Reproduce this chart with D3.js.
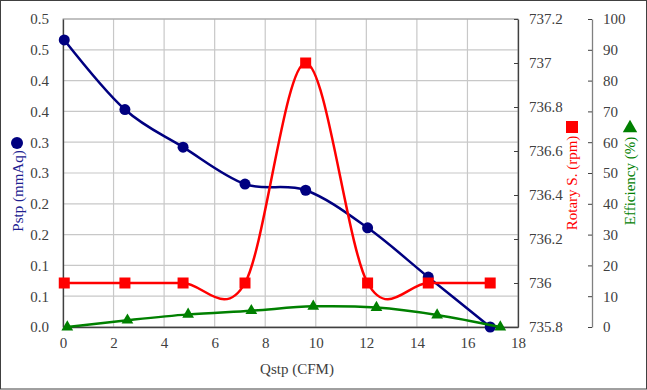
<!DOCTYPE html>
<html><head><meta charset="utf-8">
<script src="https://cdn.jsdelivr.net/npm/d3@7"></script>
<style>body{margin:0;background:#fff}svg{display:block}</style>
</head><body>
<svg id="c" width="647" height="390"></svg>
<script>
const xPstp = [0.05, 2.45, 4.75, 7.2, 9.6, 12.05, 14.45, 16.9];
const pstp = [0.466, 0.353, 0.292, 0.232, 0.222, 0.161, 0.081, 0.0];
const rotary = [736, 736, 736, 736, 737, 736, 736, 736];
const xEff = [0.17, 2.55, 4.95, 7.45, 9.9, 12.4, 14.8, 17.3];
const eff = [0, 2.2, 4.1, 5.3, 6.7, 6.3, 3.9, 0];
const leftTicks = [0,0.05,0.1,0.15,0.2,0.25,0.3,0.35,0.4,0.45,0.5];
const leftLabels = ["0.0","0.1","0.1","0.2","0.2","0.3","0.3","0.4","0.4","0.5","0.5"];
const xTicks = [0,2,4,6,8,10,12,14,16,18];
const rotTicks = [735.8,736,736.2,736.4,736.6,736.8,737,737.2];
const rotLabels = ["735.8","736","736.2","736.4","736.6","736.8","737","737.2"];
const effTicks = [0,10,20,30,40,50,60,70,80,90,100];

const svg = d3.select("#c");
const L=63, R=518, T=19, B=327;
const font = "'Liberation Serif','Times New Roman',serif";
const x = d3.scaleLinear().domain([0,18]).range([L,R]);
const y = d3.scaleLinear().domain([0,0.5]).range([B,T]);
const yR = d3.scaleLinear().domain([735.8,737.2]).range([B,T]);
const yE = d3.scaleLinear().domain([0,100]).range([B,T]);

svg.append("rect").attr("x",0.5).attr("y",0.5).attr("width",646).attr("height",388.5)
  .attr("fill","#fff").attr("stroke","#404040");

// grid
const g = svg.append("g");
g.selectAll(".vg").data(xTicks.slice(1,-1)).join("line")
  .attr("x1",d=>x(d)).attr("x2",d=>x(d)).attr("y1",T).attr("y2",B)
  .attr("stroke","#c8c8c8").attr("stroke-width",1.2);
g.selectAll(".hg").data(leftTicks.slice(1)).join("line")
  .attr("x1",L).attr("x2",R).attr("y1",d=>y(d)).attr("y2",d=>y(d))
  .attr("stroke","#c8c8c8").attr("stroke-width",1.2);
svg.append("rect").attr("x",L).attr("y",T).attr("width",R-L).attr("height",B-T)
  .attr("fill","none").attr("stroke","#a0a0a0");

function styleAxis(sel, lineColor){
  sel.selectAll("text").attr("font-family",font).attr("font-size",15).attr("fill","#404040");
  sel.select(".domain").attr("stroke",lineColor).attr("stroke-width",1.3);
  sel.selectAll(".tick line").attr("stroke","#404040");
}
const ax = svg.append("g").attr("transform",`translate(0,${B})`)
  .call(d3.axisBottom(x).tickValues(xTicks).tickSize(0).tickPadding(10).tickSizeOuter(0));
styleAxis(ax,"#404040");
const ay = svg.append("g").attr("transform",`translate(${L},0)`)
  .call(d3.axisLeft(y).tickValues(leftTicks).tickFormat((d,i)=>leftLabels[i]).tickSize(0).tickPadding(14));
styleAxis(ay,"#404040");
const ar = svg.append("g").attr("transform",`translate(${R},0)`)
  .call(d3.axisRight(yR).tickValues(rotTicks).tickFormat((d,i)=>rotLabels[i]).tickSizeInner(-4).tickSizeOuter(0).tickPadding(11));
styleAxis(ar,"#404040");
const ae = svg.append("g").attr("transform",`translate(592,0)`)
  .call(d3.axisRight(yE).tickValues(effTicks).tickSizeInner(-4).tickSizeOuter(0).tickPadding(11));
styleAxis(ae,"#808080");

const curve = d3.curveCatmullRom.alpha(0);
// Pstp
const bl = xPstp.map((d,i)=>[x(d),y(pstp[i])]);
svg.append("path").attr("d",d3.line().curve(curve)(bl)).attr("fill","none").attr("stroke","#000080").attr("stroke-width",2.5);
svg.selectAll(".c").data(bl).join("circle").attr("cx",d=>d[0]).attr("cy",d=>d[1]).attr("r",5.5).attr("fill","#000080");
// Rotary
const rl = xPstp.map((d,i)=>[x(d),yR(rotary[i])]);
svg.append("path").attr("d",d3.line().curve(curve)(rl)).attr("fill","none").attr("stroke","#ff0000").attr("stroke-width",2.5);
svg.selectAll(".s").data(rl).join("rect").attr("x",d=>d[0]-5.5).attr("y",d=>d[1]-5.5).attr("width",11).attr("height",11).attr("fill","#ff0000");
// Efficiency
const el = xEff.map((d,i)=>[x(d),yE(eff[i])]);
svg.append("path").attr("d",d3.line().curve(curve)(el)).attr("fill","none").attr("stroke","#008000").attr("stroke-width",2.5);
const tri = d3.symbol().type(d3.symbolTriangle).size(60);
svg.selectAll(".t").data(el).join("path").attr("d",tri).attr("transform",d=>`translate(${d[0]},${d[1]})`).attr("fill","#008000");

// titles
svg.append("text").attr("x",297).attr("y",374).attr("text-anchor","middle")
  .attr("font-family",font).attr("font-size",15).attr("fill","#404040").text("Qstp (CFM)");
function vtitle(cx,cy,txt,color){
  svg.append("text").attr("transform",`translate(${cx},${cy}) rotate(-90)`).attr("text-anchor","middle")
    .attr("dy","0.35em").attr("font-family",font).attr("font-size",15).attr("fill",color).text(txt);
}
vtitle(18,191,"Pstp (mmAq)","#202090");
svg.append("circle").attr("cx",17).attr("cy",143).attr("r",6).attr("fill","#000080");
vtitle(572,183,"Rotary S. (rpm)","#ff0000");
svg.append("rect").attr("x",566).attr("y",121).attr("width",12).attr("height",12).attr("fill","#ff0000");
vtitle(630,181,"Efficiency (%)","#008000");
svg.append("path").attr("d",d3.symbol().type(d3.symbolTriangle).size(90)).attr("transform","translate(630,128)").attr("fill","#008000");
</script>
</body></html>
